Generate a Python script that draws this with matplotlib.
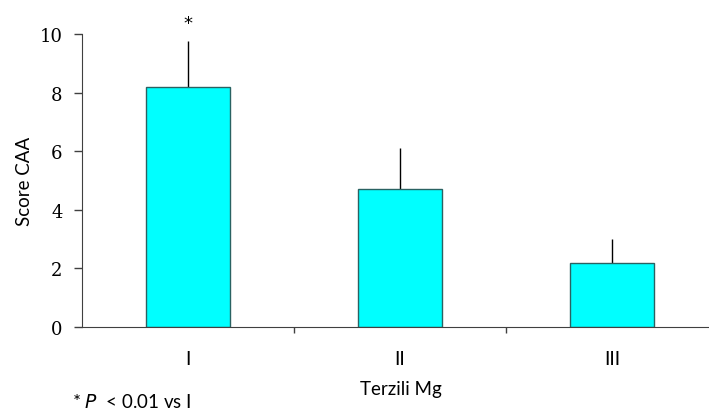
import matplotlib.pyplot as plt
import numpy as np

# data
groups = ["I", "II", "III"]
score = [8.2, 4.7, 2.2]
err = [1.56, 1.4, 0.8]

fig = plt.figure(figsize=(7.09, 4.14), dpi=100)
# axis runs off the right edge in the original
ax = fig.add_axes([82/709, (414-328)/414, 636/709, 293/414])

x = np.arange(len(groups))
ax.bar(x, score, width=0.4, color="#00FFFF", edgecolor="#2a6262", linewidth=1.0, zorder=2)
ax.errorbar(x, score, yerr=[np.zeros(len(err)), err], fmt="none",
            ecolor="black", elinewidth=1.0, capsize=0, zorder=1)

ax.set_xlim(-0.5, 2.5)
ax.set_ylim(0, 10)
ax.set_yticks([0, 2, 4, 6, 8, 10])
ax.set_yticklabels(["0", "2", "4", "6", "8", "10"], family="DejaVu Serif", fontsize=13)

# category labels centered, ticks sit between categories
ax.set_xticks([0.5, 1.5])
ax.set_xticklabels([])
ax.tick_params(axis="x", length=4.5, width=1, color="#404040", direction="out")
ax.tick_params(axis="y", length=6, width=1, color="#404040", direction="out", pad=8)
for i, g in enumerate(groups):
    ax.text(i, -1.08, g, ha="center", va="center", family="Lato", fontsize=14,
            transform=ax.transData)

for s in ["top", "right"]:
    ax.spines[s].set_visible(False)
ax.spines["left"].set_color("#404040")
ax.spines["bottom"].set_color("#404040")

ax.set_ylabel("Score CAA", family="Lato", fontsize=13.5, labelpad=5)
fig.text(401/709, 1 - 390/414, "Terzili Mg", ha="center", va="center", family="Lato", fontsize=13.5)
ax.text(0, score[0] + err[0] + 0.6, "*", ha="center", va="center", fontsize=13)
fig.text(72/709, 1 - 402/414, "* $\\it{P}$  < 0.01 vs I", ha="left", va="center",
         family="Lato", fontsize=13.5)

fig.savefig("out.png", dpi=100)
